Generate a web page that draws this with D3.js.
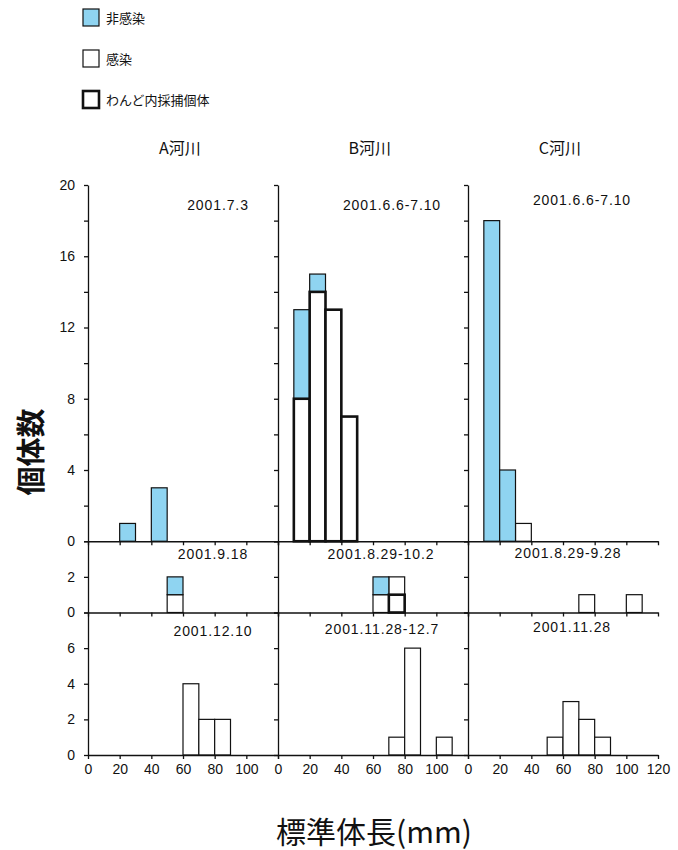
<!DOCTYPE html>
<html>
<head>
<meta charset="utf-8">
<script src="https://cdn.jsdelivr.net/npm/d3@7"></script>
<style>
  body { margin: 0; background: #fff; }
  svg { font-family: "Liberation Sans", Arial, "Noto Sans CJK JP", sans-serif; }
  .axis path, .axis line { stroke: #111; stroke-width: 1.3; }
  .axis text { font-size: 14px; fill: #111; }
  .jp { font-family: "Noto Sans CJK JP", sans-serif; fill: #111; }
</style>
</head>
<body>
<div id="chart"></div>
<script>
// rivers (columns) and sampling periods (rows)
const rivers = ["A河川", "B河川", "C河川"];
const periods = [
  ["2001.7.3", "2001.6.6-7.10", "2001.6.6-7.10"],
  ["2001.9.18", "2001.8.29-10.2", "2001.8.29-9.28"],
  ["2001.12.10", "2001.11.28-12.7", "2001.11.28"]
];
const legendLabels = ["非感染", "感染", "わんど内採捕個体"];

// y extent of each row and which ticks get a number
const rowMax = [20, 4, 8];
const rowTickLabels = [[0, 4, 8, 12, 16, 20], [0, 2], [0, 2, 4, 6]];

// length bins (mm), 10 mm wide
const binStarts = [0, 10, 20, 30, 40, 50, 60, 70, 80, 90, 100, 110];
const xTicks = [0, 20, 40, 60, 80, 100, 120];
const xTickLabels = [[0, 20, 40, 60, 80, 100], [0, 20, 40, 60, 80, 100], [0, 20, 40, 60, 80, 100, 120]];

// counts: [row, column, bin start, count]
const nonInfected = [
  [0, 0, 20, 1], [0, 0, 40, 3],
  [0, 1, 10, 5], [0, 1, 20, 1],
  [0, 2, 10, 18], [0, 2, 20, 4],
  [1, 0, 50, 1],
  [1, 1, 60, 1]
];
const infected = [
  [0, 2, 30, 1],
  [1, 0, 50, 1],
  [1, 1, 60, 1], [1, 1, 70, 1],
  [1, 2, 70, 1], [1, 2, 100, 1],
  [2, 0, 60, 4], [2, 0, 70, 2], [2, 0, 80, 2],
  [2, 1, 70, 1], [2, 1, 80, 6], [2, 1, 100, 1],
  [2, 2, 50, 1], [2, 2, 60, 3], [2, 2, 70, 2], [2, 2, 80, 1]
];
const wando = [
  [0, 1, 10, 8], [0, 1, 20, 14], [0, 1, 30, 13], [0, 1, 40, 7],
  [1, 1, 70, 1]
];

const W = 678, H = 850;
const originX = 88, panelW = 190;
const plotTop = 185, plotBottom = 755;
const unit = (plotBottom - plotTop) / d3.sum(rowMax);
const blue = "#8fd4f1";

const svg = d3.select("#chart").append("svg")
  .attr("width", W)
  .attr("height", H);

// row geometry (bottom y of each row)
const rowBottom = [];
let acc = plotTop;
rowMax.forEach((m, r) => { acc += m * unit; rowBottom[r] = acc; });

const xScales = rivers.map((_, c) => d3.scaleLinear()
  .domain([0, 120])
  .range([originX + c * panelW, originX + (c + 1) * panelW]));
const yScales = rowMax.map((m, r) => d3.scaleLinear()
  .domain([0, m])
  .range([rowBottom[r], rowBottom[r] - m * unit]));

const keys = ["wando", "infected", "nonInfected"];
const series = { wando, infected, nonInfected };
const stack = d3.stack().keys(keys);

function panelTable(r, c) {
  return binStarts.map(b => {
    const row = { bin: b };
    keys.forEach(k => {
      const rec = series[k].find(d => d[0] === r && d[1] === c && d[2] === b);
      row[k] = rec ? rec[3] : 0;
    });
    return row;
  });
}

// bars
rowMax.forEach((m, r) => {
  rivers.forEach((_, c) => {
    const x = xScales[c], y = yScales[r];
    const layers = stack(panelTable(r, c));
    const g = svg.append("g");
    // draw the thick-bordered layer last so its outline sits on top
    [1, 2, 0].forEach(li => {
      const layer = layers[li];
      g.selectAll(null)
        .data(layer.filter(d => d[1] > d[0]))
        .enter()
        .append("rect")
        .attr("x", d => x(d.data.bin))
        .attr("width", d => x(d.data.bin + 10) - x(d.data.bin))
        .attr("y", d => y(d[1]))
        .attr("height", d => y(d[0]) - y(d[1]))
        .attr("fill", layer.key === "nonInfected" ? blue : "#fff")
        .attr("stroke", "#111")
        .attr("stroke-width", layer.key === "wando" ? 2.6 : 1.2);
    });
  });
});

// axes
rowMax.forEach((m, r) => {
  rivers.forEach((_, c) => {
    svg.append("g")
      .attr("class", "axis")
      .attr("transform", `translate(0,${rowBottom[r]})`)
      .call(d3.axisBottom(xScales[c])
        .tickValues(xTicks)
        .tickSize(4)
        .tickSizeOuter(0)
        .tickPadding(5)
        .tickFormat(v => (r === 2 && xTickLabels[c].includes(v)) ? v : ""));

    svg.append("g")
      .attr("class", "axis")
      .attr("transform", `translate(${xScales[c](0)},0)`)
      .call(d3.axisLeft(yScales[r])
        .tickValues(d3.range(0, m + 1, 2))
        .tickSize(4)
        .tickSizeOuter(0)
        .tickPadding(9)
        .tickFormat(v => (c === 0 && rowTickLabels[r].includes(v)) ? v : ""));
  });
});

// river titles
svg.selectAll(".river")
  .data(rivers)
  .enter()
  .append("text")
  .attr("class", "jp")
  .attr("x", (d, c) => xScales[c](58))
  .attr("y", 154)
  .attr("text-anchor", "middle")
  .style("font-size", "16px")
  .text(d => d);

// period labels
const dateDX = [[130, 114, 114], [125, 103, 100], [125, 104, 104]];
const dateDY = [[20, 20, 15], [13, 13, 12], [19, 17, 15]];
periods.forEach((row, r) => {
  row.forEach((t, c) => {
    svg.append("text")
      .attr("x", xScales[c](0) + dateDX[r][c])
      .attr("y", rowBottom[r] - rowMax[r] * unit + dateDY[r][c])
      .attr("dy", "0.35em")
      .attr("text-anchor", "middle")
      .style("font-size", "14px")
      .style("letter-spacing", "0.9px")
      .style("fill", "#111")
      .text(t);
  });
});

// legend
const legend = svg.append("g").attr("transform", "translate(83,9)");
legendLabels.forEach((t, i) => {
  const g = legend.append("g").attr("transform", `translate(0,${i * 41})`);
  g.append("rect")
    .attr("width", 16)
    .attr("height", 17)
    .attr("fill", i === 0 ? blue : "#fff")
    .attr("stroke", "#111")
    .attr("stroke-width", i === 2 ? 2.6 : 1.2);
  g.append("text")
    .attr("class", "jp")
    .attr("x", 23)
    .attr("y", 9)
    .attr("dy", "0.35em")
    .style("font-size", "13px")
    .text(t);
});

// axis titles
svg.append("text")
  .attr("class", "jp")
  .attr("transform", "translate(32,452) rotate(-90)")
  .attr("text-anchor", "middle")
  .attr("dy", "0.35em")
  .style("font-size", "29px")
  .style("font-weight", "bold")
  .text("個体数");

svg.append("text")
  .attr("class", "jp")
  .attr("x", 374)
  .attr("y", 832)
  .attr("dy", "0.35em")
  .attr("text-anchor", "middle")
  .style("font-size", "30px")
  .text("標準体長(mm)");
</script>
</body>
</html>
